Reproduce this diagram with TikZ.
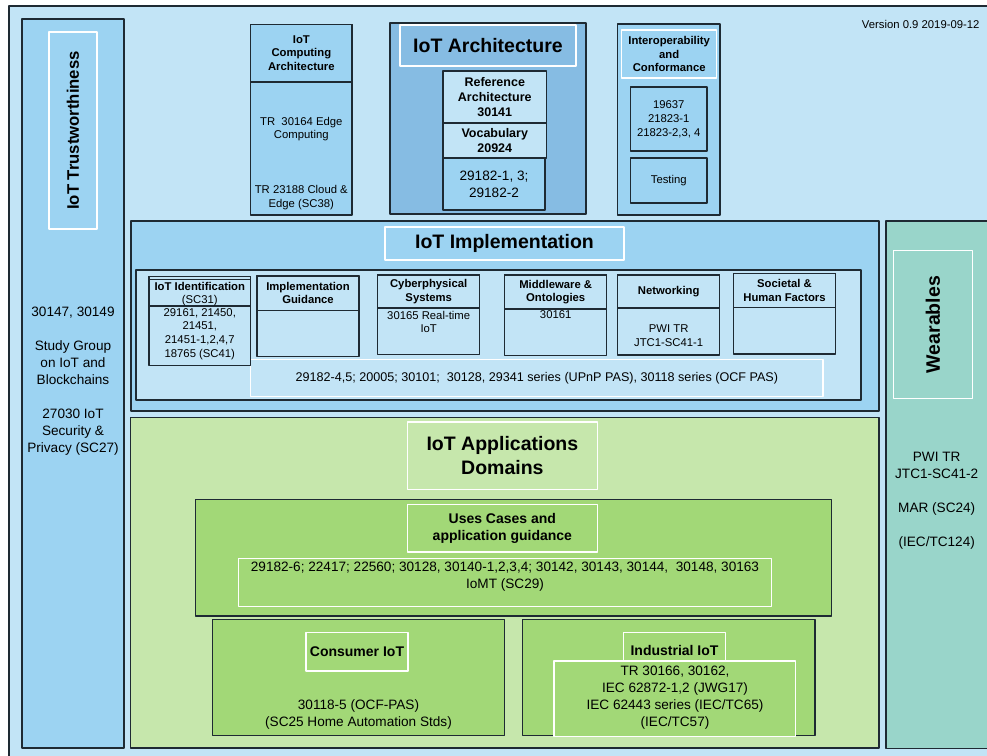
\documentclass[tikz,border=0pt]{standalone}
\usepackage{fontspec}
\setmainfont{Liberation Sans}
\definecolor{edge}{HTML}{1E2A33}
\definecolor{bluelt}{HTML}{C2E4F6}
\definecolor{bluemd}{HTML}{9CD3F2}
\definecolor{bluedk}{HTML}{86BCE3}
\definecolor{greenlt}{HTML}{C6E7AC}
\definecolor{greenmd}{HTML}{A2D877}
\definecolor{wearcol}{HTML}{99D5CA}
\begin{document}
\begin{tikzpicture}[x=1pt,y=-1pt, line join=round,
    frm/.style={draw=edge, line width=1.3pt, inner sep=0pt, outer sep=0pt},
    wht/.style={draw=white, line width=1.3pt, inner sep=0pt, outer sep=0pt},
    box/.style n args={4}{anchor=north west, at={(#1,#2)}, minimum width={(#3)-(#1)}, minimum height={(#4)-(#2)}},
    ttl/.style={font=\fontsize{19.5}{23.4}\selectfont\bfseries, align=center},
    hd/.style={font=\fontsize{11.3}{13.6}\selectfont\bfseries, align=center},
    hdb/.style={font=\fontsize{12.5}{15}\selectfont\bfseries, align=center},
    hdc/.style={font=\fontsize{14}{17}\selectfont\bfseries, align=center},
    sm/.style={font=\fontsize{11.3}{13.8}\selectfont, align=center},
    md/.style={font=\fontsize{13.6}{17}\selectfont, align=center}]
    %% page
    \useasboundingbox (0,0) rectangle (987,755);
    \clip (0,0) rectangle (987,755);
    \fill[white] (0,0) rectangle (987,755);
    \node[frm, fill=bluelt, box={9}{6}{1000}{770}] (page) {};
    \node[sm, anchor=east] (ver) at (983,24) {Version 0.9 2019-09-12};
    %% trustworthiness
    \node[frm, fill=bluemd, box={22}{19}{124}{748}] (trust) {};
    \node[wht, box={49}{32}{97}{229}] (trustlbl) {};
    \node[font=\fontsize{16.7}{20}\selectfont\bfseries, rotate=90] (trustttl) at (trustlbl) {IoT Trustworthiness};
    \node[md] (trusttxt) at (73,381) {30147, 30149\\[17pt]Study Group\\on IoT and\\Blockchains\\[17pt]27030 IoT\\Security \&\\Privacy (SC27)};
    %% computing architecture
    \node[frm, fill=bluemd, box={250.7}{24.3}{352}{215}] (comp) {};
    \node[frm, hd, box={250.7}{24.3}{352}{82}] (comphd) {IoT\\Computing\\Architecture};
    \node[sm] (comp1) at (301.3,129) {TR\ \ 30164 Edge\\Computing};
    \node[sm] (comp2) at (301.3,197.5) {TR 23188 Cloud \&\\Edge (SC38)};
    %% architecture
    \node[frm, fill=bluedk, box={390}{23}{586}{214}] (arch) {};
    \node[wht, ttl, box={400}{25}{576}{66}] (archlbl) {IoT Architecture};
    \node[frm, fill=bluelt, hdb, box={443}{71}{546.5}{123}] (refarch) {Reference\\Architecture\\30141};
    \node[frm, fill=bluelt, hdb, box={443}{123}{546.5}{158}] (vocab) {Vocabulary\\20924};
    \node[frm, fill=bluemd, md, box={443}{158}{545}{210}] (archstd) {29182-1, 3;\\29182-2};
    %% interoperability
    \node[frm, fill=bluemd, box={617.7}{24}{720}{215}] (interop) {};
    \node[wht, hd, box={621.6}{30}{716.8}{78}] (interoplbl) {Interoperability\\and\\Conformance};
    \node[frm, sm, box={630.5}{87}{707}{151}] (interopstd) {19637\\21823-1\\21823-2,3, 4};
    \node[frm, sm, box={630.5}{158}{707}{203}] (testing) {Testing};
    %% implementation
    \node[frm, fill=bluemd, box={131}{221}{879}{411}] (impl) {};
    \node[wht, ttl, box={385}{227}{624}{260}] (impllbl) {IoT Implementation};
    \node[frm, fill=bluelt, box={136}{270}{861}{400}] (implin) {};
    \node[wht, font=\fontsize{12.6}{15}\selectfont, box={250.7}{359.3}{823}{396.7}] (implstd) {29182-4,5; 20005; 30101;\ \ 30128, 29341 series (UPnP PAS), 30118 series (OCF PAS)};
    \node[frm, fill=bluelt, box={149}{276.7}{250.7}{365.7}] (ident) {};
    \node[frm, box={149}{276.7}{250.7}{306}] (identhd) {};
    \draw[edge, line width=1.3pt] (ident.north west) ++(0,2.5) -- ++(101.7,0);
    \node[hd] (identttl) at (199.8,286.7) {IoT Identification};
    \node[sm] (identsc) at (199.8,301) {(SC31)};
    \node[sm] (identtxt) at (199.8,334) {29161, 21450,\\21451,\\21451-1,2,4,7\\18765 (SC41)};
    \node[frm, box={257}{276}{359}{356.7}] (guide) {};
    \node[frm, hd, box={257}{276}{359}{310.3}] (guidehd) {Implementation\\Guidance};
    \node[frm, box={377.7}{275}{479.7}{354.3}] (cyber) {};
    \node[frm, hd, box={377.7}{275}{479.7}{308}] (cyberhd) {Cyberphysical\\Systems};
    \node[sm] (cybertxt) at (428.7,322) {30165 Real-time\\IoT};
    \node[frm, box={504.7}{275}{606.7}{355.3}] (midw) {};
    \node[frm, hd, box={504.7}{275}{606.7}{309}] (midwhd) {Middleware \&\\Ontologies};
    \node[sm] (midwtxt) at (555.7,315) {30161};
    \node[frm, box={617.7}{275}{719.7}{355}] (net) {};
    \node[frm, hd, box={617.7}{275}{719.7}{308}] (nethd) {Networking};
    \node[sm] (nettxt) at (668.7,336) {PWI TR\\JTC1-SC41-1};
    \node[frm, box={733.7}{273.7}{835.3}{354}] (soc) {};
    \node[frm, hd, box={733.7}{273.7}{835.3}{307.3}] (sochd) {Societal \&\\Human Factors};
    %% wearables
    \node[frm, fill=wearcol, box={886}{221}{1000}{748.7}] (wear) {};
    \node[wht, box={893.3}{250.8}{972.7}{398.5}] (wearlbl) {};
    \node[ttl, rotate=90] (wearttl) at (wearlbl) {Wearables};
    \node[md] (weartxt) at (936.7,501) {PWI TR\\JTC1-SC41-2\\[17pt]MAR (SC24)\\[17pt](IEC/TC124)};
    %% application domains
    \node[frm, fill=greenlt, box={130.5}{417.3}{879}{748}] (apps) {};
    \node[wht, ttl, box={407.4}{422}{597.3}{489.3}] (appslbl) {IoT Applications\\Domains};
    \node[frm, fill=greenmd, box={195.5}{499.7}{831.2}{616}] (uses) {};
    \node[wht, hdc, box={407.4}{504.3}{597.3}{552}] (useslbl) {Uses Cases and\\application guidance};
    \node[wht, box={238.6}{558.7}{771.4}{606.7}] (usesstd) {};
    \node[md] (usestxt) at (505,577) {29182-6; 22417; 22560; 30128, 30140-1,2,3,4; 30142, 30143, 30144,\ \ 30148, 30163\\IoMT (SC29)};
    \node[frm, fill=greenmd, box={212.4}{619.3}{504.7}{735.7}] (cons) {};
    \node[wht, hdc, box={306}{632.3}{408}{671}] (conslbl) {Consumer IoT};
    \node[md] (constxt) at (358.5,714.5) {30118-5 (OCF-PAS)\\(SC25 Home Automation Stds)};
    \node[frm, fill=greenmd, box={522.7}{619.3}{815}{735.7}] (ind) {};
    \node[wht, hdc, box={623.5}{632.3}{725.5}{668}] (indlbl) {Industrial IoT};
    \node[wht, fill=greenmd, box={554}{661}{795.7}{736.7}] (indstd) {};
    \node[md] (indtxt) at (675,697.5) {TR 30166, 30162,\\IEC 62872-1,2 (JWG17)\\IEC 62443 series (IEC/TC65)\\(IEC/TC57)};
\end{tikzpicture}
\end{document}
